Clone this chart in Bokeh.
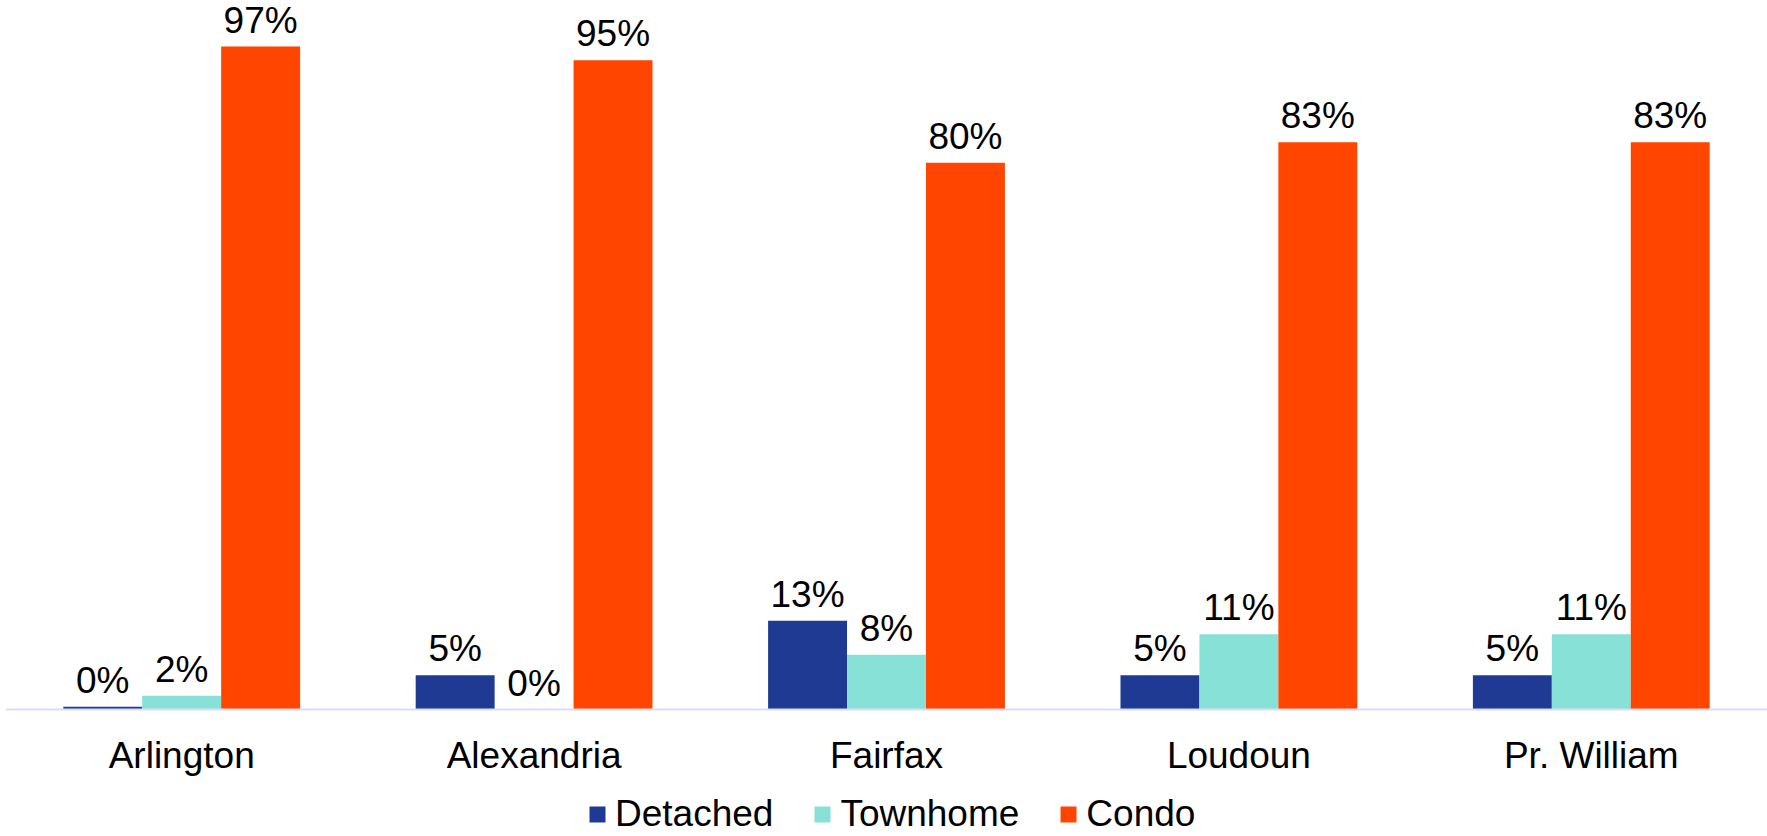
from bokeh.plotting import figure
from bokeh.models import ColumnDataSource, LabelSet, Legend, LegendItem, FactorRange, Range1d
from bokeh.core.properties import value
from bokeh.transform import dodge
from bokeh.embed import file_html
from bokeh.resources import INLINE

# Share of listings by housing type, per jurisdiction (percent)
counties = ["Arlington", "Alexandria", "Fairfax", "Loudoun", "Pr. William"]
detached = [0.4, 5, 13, 5, 5]
townhome = [2, 0, 8, 11, 11]
condo = [97, 95, 80, 83, 83]

series_names = ["Detached", "Townhome", "Condo"]
series_colors = ["#1F3A93", "#88E1D6", "#FF4500"]

FONT = "Liberation Sans"
FONT_SIZE = "37px"
BAR_W = 0.224

data = {"county": counties, "Detached": detached, "Townhome": townhome, "Condo": condo}
for name in series_names:
    data[name + "_lbl"] = [f"{round(v):.0f}%" for v in data[name]]
source = ColumnDataSource(data)

# The frame fills the whole canvas; the space under zero holds the
# category labels and the legend.
p = figure(
    x_range=FactorRange(*counties, range_padding=0),
    y_range=Range1d(-18.58, 103.73),
    width=1767, height=836,
    output_backend="svg", toolbar_location=None,
    y_axis_location=None,
    min_border_left=5, min_border_right=0, min_border_top=0, min_border_bottom=0,
)
p.outline_line_color = None
p.grid.visible = False

offsets = [-BAR_W, 0.0, BAR_W]
renderers = []
for name, color, off in zip(series_names, series_colors, offsets):
    r = p.vbar(x=dodge("county", off, range=p.x_range), top=name, bottom=0, width=BAR_W,
               source=source, fill_color=color, line_color=None)
    renderers.append(r)
    labels = LabelSet(x=dodge("county", off, range=p.x_range), y=name, text=name + "_lbl",
                      source=source, text_align="center", text_baseline="alphabetic",
                      y_offset=14, text_font=value(FONT), text_font_size=value(FONT_SIZE),
                      text_color="black")
    p.add_layout(labels)

# Category axis pinned to the zero line
ax = p.xaxis[0]
ax.fixed_location = 0
ax.axis_line_color = "#D9DDF2"
ax.axis_line_width = 2
ax.major_tick_line_color = None
ax.minor_tick_line_color = None
ax.major_label_text_font = FONT
ax.major_label_text_font_size = FONT_SIZE
ax.major_label_text_color = "black"
ax.major_label_standoff = 19

legend = Legend(
    items=[LegendItem(label=n, renderers=[r]) for n, r in zip(series_names, renderers)],
    orientation="horizontal",
    location=(582, 1),
    glyph_width=20, glyph_height=20, label_height=20,
    label_text_font=FONT, label_text_font_size=FONT_SIZE, label_text_color="black",
    label_standoff=8, spacing=39, padding=0, margin=0,
    border_line_color=None, background_fill_alpha=0,
)
p.add_layout(legend, "center")

open("out.html", "w").write(file_html(p, INLINE))
